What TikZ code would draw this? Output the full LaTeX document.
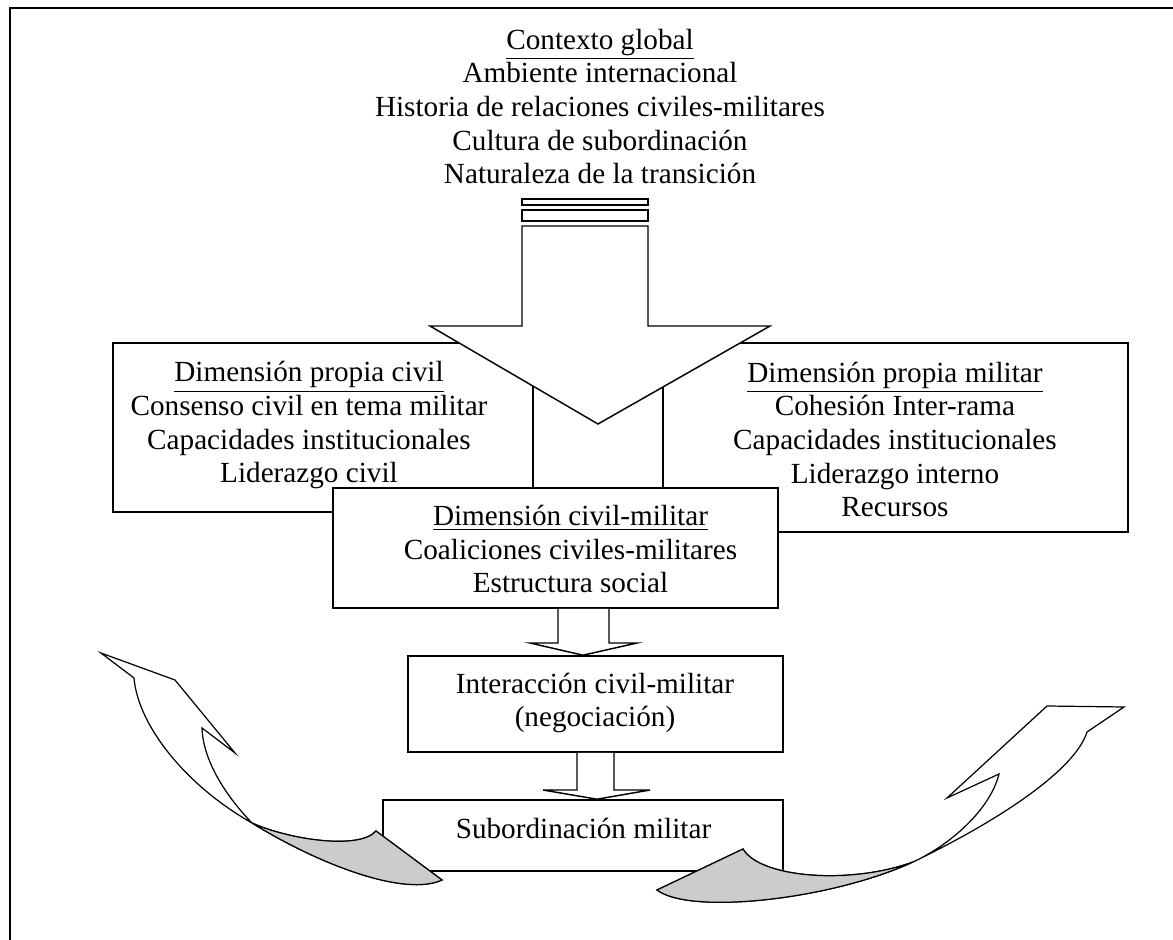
\documentclass[tikz,border=0pt]{standalone}
\usepackage{fontspec}
\setmainfont{Liberation Serif}
\begin{document}
\begin{tikzpicture}[x=0.411pt,y=-0.411pt,
  frameline/.style={line width=0.85pt},
  box/.style={draw, line width=0.65pt, fill=white, inner sep=0pt},
  txt/.style={align=center, font=\fontsize{12}{13.85}\selectfont, inner sep=0pt, anchor=base},
  blockarrow/.style={draw, line width=0.6pt, fill=white, line join=miter},
  ribbon/.style={draw, line width=0.5pt, line join=miter, fill=white},
  shade/.style={fill=gray!40}]
\useasboundingbox (0,0) rectangle (1173,940);
% outer frame
\draw[frameline] (10,940) -- (10,8) -- (1173,8);
% global context text (anchor = baseline of last line)
\node[txt] (ctx) at (600,184) {\underline{Contexto global}\\Ambiente internacional\\Historia de relaciones civiles-militares\\Cultura de subordinación\\Naturaleza de la transición};
% side boxes
\node[box, minimum width=420*0.411pt, minimum height=169*0.411pt] (civil) at (323,427.5) {};
\node[box, minimum width=465*0.411pt, minimum height=189*0.411pt] (milit) at (895.5,437.5) {};
\node[txt] (civtxt) at (309,483) {\underline{Dimensión propia civil}\\Consenso civil en tema militar\\Capacidades institucionales\\Liderazgo civil};
\node[txt] (miltxt) at (895,517) {\underline{Dimensión propia militar}\\Cohesión Inter-rama\\Capacidades institucionales\\Liderazgo interno\\Recursos};
% big arrow
\draw[blockarrow] (522,199) rectangle (648,205);
\draw[blockarrow] (522,210) rectangle (648,221);
\draw[blockarrow] (522,226) -- (522,326) -- (430,326) -- (598,424) -- (770,326) -- (648,326) -- (648,226) -- cycle;
% civil-military box
\node[box, minimum width=445*0.411pt, minimum height=120*0.411pt] (civmil) at (555.5,548) {};
\node[txt] (cmtxt) at (570.5,593) {\underline{Dimensión civil-militar}\\Coaliciones civiles-militares\\Estructura social};
% interaction box
\node[box, minimum width=375*0.411pt, minimum height=96*0.411pt] (inter) at (595.5,704) {};
\node[txt] (inttxt) at (595,727) {Interacción civil-militar\\(negociación)};
% subordination box
\node[box, minimum width=400*0.411pt, minimum height=71*0.411pt] (subord) at (583,835.5) {};
\node[txt] (subtxt) at (583.5,838) {Subordinación militar};
% small block arrows
\draw[blockarrow] (558,0 |- civmil.south) -- (558,643) -- (530,643) -- (583,0 |- inter.north) -- (637,643) -- (609,643) -- (609,0 |- civmil.south);
\draw[blockarrow] (577,0 |- inter.south) -- (577,790) -- (543,790) -- (597,0 |- subord.north) -- (650,790) -- (614,790) -- (614,0 |- inter.south);
% left curved ribbon arrow
\coordinate (LT) at (101,653);
\coordinate (LO) at (134,678);
\coordinate (LP) at (252,823);
\coordinate (LE1) at (442,880);
\coordinate (LE2) at (376,831);
\coordinate (LI) at (202,728);
\coordinate (LB) at (235,753);
\coordinate (LH) at (175,680);
\draw[ribbon] (LT) -- (LO) .. controls (138,725) and (185,785) .. (LP)
  .. controls (320,865) and (405,897) .. (LE1) -- (LE2)
  .. controls (360,850) and (290,840) .. (LP)
  .. controls (225,795) and (203,760) .. (LI) -- (LB) -- (LH) -- cycle;
\fill[shade] (LP) .. controls (290,840) and (360,850) .. (LE2) -- (LE1)
  .. controls (405,897) and (320,865) .. (LP) -- cycle;
\draw[line width=0.5pt, line join=miter] (LP) .. controls (290,840) and (360,850) .. (LE2) -- (LE1)
  .. controls (405,897) and (320,865) .. (LP);
% right curved ribbon arrow
\coordinate (R1) at (657,890);
\coordinate (R2) at (743,849);
\coordinate (RQ) at (913,862);
\coordinate (RN) at (999,774);
\coordinate (RB) at (947,798);
\coordinate (RH) at (1047,706);
\coordinate (RT) at (1124,707);
\coordinate (RO) at (1087,732);
\draw[ribbon] (R1) -- (R2) .. controls (760,878) and (850,885) .. (RQ)
  .. controls (950,845) and (990,810) .. (RN) -- (RB) -- (RH) -- (RT) -- (RO)
  .. controls (1075,770) and (1000,820) .. (RQ)
  .. controls (830,900) and (690,915) .. (R1) -- cycle;
\fill[shade] (R1) -- (R2) .. controls (760,878) and (850,885) .. (RQ)
  .. controls (830,900) and (690,915) .. (R1) -- cycle;
\draw[line width=0.5pt, line join=miter] (R1) -- (R2) .. controls (760,878) and (850,885) .. (RQ)
  .. controls (830,900) and (690,915) .. (R1) -- cycle;
\end{tikzpicture}
\end{document}
